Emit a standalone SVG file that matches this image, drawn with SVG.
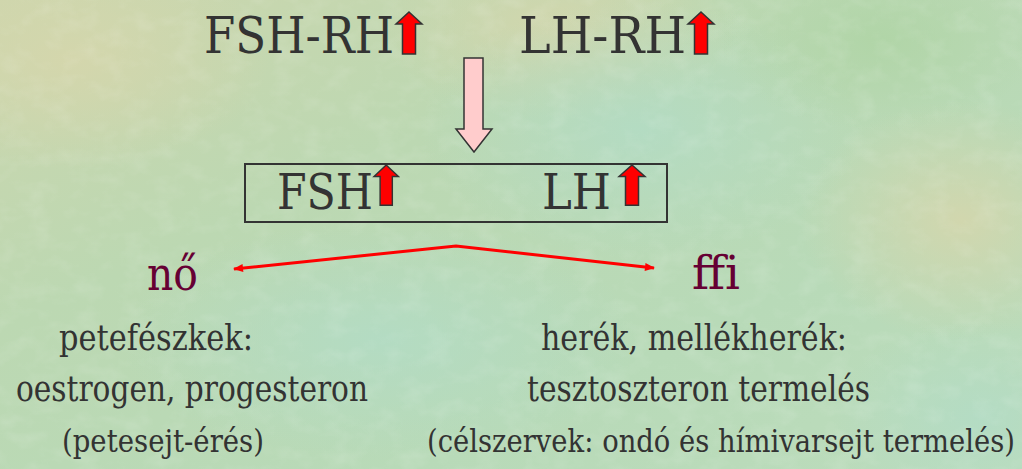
<svg xmlns="http://www.w3.org/2000/svg" width="1022" height="469" viewBox="0 0 1022 469">
  <defs>
    <linearGradient id="bg" x1="0" y1="0" x2="1" y2="1">
      <stop offset="0" stop-color="#cdd6ad"/>
      <stop offset="0.35" stop-color="#bcd8b2"/>
      <stop offset="0.7" stop-color="#b8dab8"/>
      <stop offset="1" stop-color="#bcdcbc"/>
    </linearGradient>
    <radialGradient id="beige1" cx="0.5" cy="0.5" r="0.5">
      <stop offset="0" stop-color="#d6d6ac" stop-opacity="0.85"/>
      <stop offset="1" stop-color="#d6d6ac" stop-opacity="0"/>
    </radialGradient>
    <radialGradient id="cyan1" cx="0.5" cy="0.5" r="0.5">
      <stop offset="0" stop-color="#b2dcc6" stop-opacity="0.8"/>
      <stop offset="1" stop-color="#b2dcc6" stop-opacity="0"/>
    </radialGradient>
    <radialGradient id="green1" cx="0.5" cy="0.5" r="0.5">
      <stop offset="0" stop-color="#aed4a4" stop-opacity="0.8"/>
      <stop offset="1" stop-color="#aed4a4" stop-opacity="0"/>
    </radialGradient>
    <filter id="tex" x="0" y="0" width="1022" height="469" filterUnits="userSpaceOnUse">
      <feTurbulence type="fractalNoise" baseFrequency="0.04 0.06" numOctaves="3" seed="4" result="n"/>
      <feColorMatrix type="matrix" in="n" values="0 0 0 0 1  0 0 0 0 1  0 0 0 0 1  0 0 0 2.0 -0.9"/>
    </filter>
    <path id="up" d="M13,0 L26,12 L19.5,12 L19.5,42 L6.5,42 L6.5,12 L0,12 Z"/>
    <marker id="ah" viewBox="0 0 10 8" refX="9" refY="4" markerWidth="11" markerHeight="8" markerUnits="userSpaceOnUse" orient="auto-start-reverse">
      <path d="M0,0 L10,4 L0,8 Z" fill="#ff0000"/>
    </marker>
  </defs>
  <style>
    text { font-family: "DejaVu Serif", "Liberation Serif", serif; }
    .t { fill: #333333; }
    .big { font-size: 50px; }
    .mid { font-size: 48px; }
    .sex { fill: #660033; font-size: 46px; }
    .s39 { font-size: 35px; }
    .s36 { font-size: 32px; }
    .red { fill: #ff0000; stroke: #333333; stroke-width: 1.5; stroke-linejoin: miter; }
  </style>

  <g id="background">
    <rect x="0" y="0" width="1022" height="469" fill="url(#bg)"/>
    <ellipse cx="70" cy="60" rx="200" ry="110" fill="url(#beige1)"/>
    <ellipse cx="560" cy="30" rx="180" ry="90" fill="url(#beige1)"/>
    <ellipse cx="960" cy="220" rx="160" ry="120" fill="url(#beige1)"/>
    <ellipse cx="640" cy="130" rx="220" ry="130" fill="url(#cyan1)"/>
    <ellipse cx="880" cy="40" rx="160" ry="90" fill="url(#green1)"/>
    <ellipse cx="380" cy="340" rx="260" ry="120" fill="url(#cyan1)"/>
    <ellipse cx="980" cy="420" rx="150" ry="100" fill="url(#cyan1)"/>
    <rect x="0" y="0" width="1022" height="469" fill="#000000" opacity="0.12" filter="url(#tex)"/>
  </g>

  <g id="fsh-rh">
    <text class="t big" x="204" y="53" textLength="190" lengthAdjust="spacingAndGlyphs">FSH-RH</text>
    <use href="#up" class="red" transform="translate(396,12)"/>
  </g>

  <g id="lh-rh">
    <text class="t big" x="519" y="53" textLength="167" lengthAdjust="spacingAndGlyphs">LH-RH</text>
    <use href="#up" class="red" transform="translate(688,12)"/>
  </g>

  <g id="fsh-lh">
    <rect x="245" y="164" width="422" height="58" fill="none" stroke="#333333" stroke-width="2"/>
    <text class="t mid" x="277" y="209" textLength="96" lengthAdjust="spacingAndGlyphs">FSH</text>
    <use href="#up" class="red" transform="translate(374,165) scale(0.94,0.96)"/>
    <text class="t mid" x="542" y="209" textLength="69" lengthAdjust="spacingAndGlyphs">LH</text>
    <use href="#up" class="red" transform="translate(619,165) scale(1.0,0.96)"/>
  </g>

  <g id="no">
    <text class="sex" x="147" y="290" textLength="51" lengthAdjust="spacingAndGlyphs">nő</text>
    <text class="t s39" x="59" y="350" textLength="194" lengthAdjust="spacingAndGlyphs">petefészkek:</text>
    <text class="t s39" x="16" y="401" textLength="352" lengthAdjust="spacingAndGlyphs">oestrogen, progesteron</text>
    <text class="t s36" x="62" y="452" textLength="202" lengthAdjust="spacingAndGlyphs">(petesejt-érés)</text>
  </g>

  <g id="ffi">
    <text class="sex" x="692" y="289" textLength="48" lengthAdjust="spacingAndGlyphs">ffi</text>
    <text class="t s39" x="541" y="350" textLength="306" lengthAdjust="spacingAndGlyphs">herék, mellékherék:</text>
    <text class="t s39" x="527" y="401" textLength="343" lengthAdjust="spacingAndGlyphs">tesztoszteron termelés</text>
    <text class="t s36" x="427" y="452" textLength="588" lengthAdjust="spacingAndGlyphs">(célszervek: ondó és hímivarsejt termelés)</text>
  </g>

  <g id="connectors">
    <path d="M464,58 L483,58 L483,129 L492,129 L474,152 L456,129 L464,129 Z" fill="#ffcccc" stroke="#333333" stroke-width="1.5"/>
    <polyline points="234,269 456,246 654,268" fill="none" stroke="#ff0000" stroke-width="3" marker-start="url(#ah)" marker-end="url(#ah)"/>
  </g>
</svg>
